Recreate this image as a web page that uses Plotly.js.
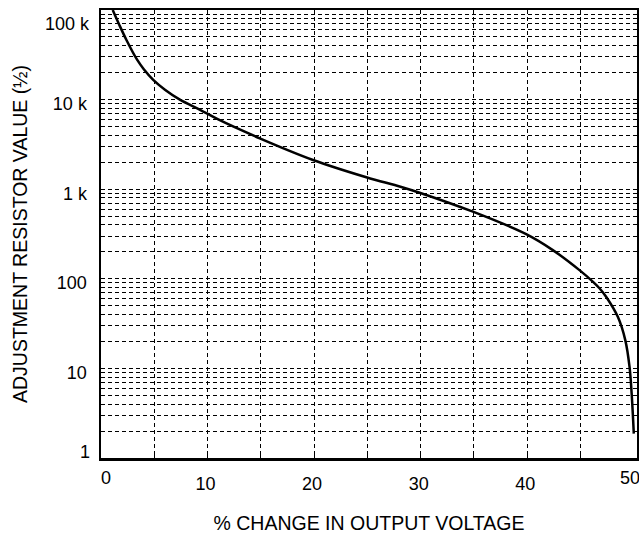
<!DOCTYPE html>
<html>
<head>
<meta charset="utf-8">
<script src="https://cdn.plot.ly/plotly-3.0.1.min.js"></script>
<style>html,body{margin:0;padding:0;background:#fff;}#chart{width:639px;height:534px;}</style>
</head>
<body>
<div id="chart"></div>
<script>
// % change in output voltage
var pctChange = [1.1, 1.7, 2.4, 3.4, 4.0, 4.9, 6.0, 7.4, 9.3, 11.0, 14.9, 19.9, 24.9, 28.1, 29.9, 34.9, 39.9, 42.4, 44.9, 46.2, 46.8, 47.4, 48.5, 49.2, 49.6, 49.8, 50.0];
// adjustment resistor value (ohms)
var resistance = [100000, 69000, 46000, 27700, 22000, 16600, 12900, 10000, 7700, 6000, 3700, 2120, 1360, 1067, 914, 561, 315, 209, 125, 92, 78, 63, 37.6, 20.7, 10.4, 5.2, 1.87];

var xTickVals = [0, 5, 10, 15, 20, 25, 30, 35, 40, 45];
var xTickText = ['', '', '10', '', '20', '', '30', '', '40', ''];
var xEndLabels = ['0', '50'];

var yDecades = [1, 10, 100, 1000, 10000];
var yDecadeLabels = ['1', '10', '100', '1 k', '10 k'];
var yTopLabel = '100 k';

var yTickVals = [], yTickText = [];
yDecades.forEach(function (d, i) {
  for (var m = 1; m <= 9; m++) {
    yTickVals.push(m * d);
    yTickText.push(m === 1 && i > 0 ? yDecadeLabels[i] : '');
  }
});
yTickVals.push(100000); yTickText.push('');

var FONT = 'Liberation Sans, Arial, Helvetica, sans-serif';
var DASH = '4px,3px';

var trace = {
  x: pctChange, y: resistance, type: 'scatter', mode: 'lines',
  line: {color: '#000', width: 2.5, shape: 'spline', smoothing: 1},
  hoverinfo: 'skip'
};

var layout = {
  width: 639, height: 534,
  margin: {l: 101, r: 2, t: 10, b: 76},
  paper_bgcolor: '#fff', plot_bgcolor: '#fff',
  showlegend: false,
  font: {family: FONT, size: 18, color: '#000'},
  xaxis: {
    range: [0, 50.3], tickmode: 'array', tickvals: xTickVals, ticktext: xTickText,
    ticks: 'inside', ticklen: 4, tickwidth: 1, tickcolor: '#000',
    showgrid: true, gridcolor: '#000', gridwidth: 1, griddash: DASH,
    zeroline: false, showline: true, linecolor: '#000', linewidth: 2.5, mirror: true,
    ticklabelstandoff: 8, ticklabelshift: -2,
    tickfont: {family: FONT, size: 18, color: '#000'},
    title: {text: '% CHANGE IN OUTPUT VOLTAGE', font: {family: FONT, size: 19.5, color: '#000'}, standoff: 29}
  },
  yaxis: {
    type: 'log', range: [0, 5], tickmode: 'array', tickvals: yTickVals, ticktext: yTickText,
    ticks: '', showgrid: true, gridcolor: '#000', gridwidth: 1, griddash: DASH,
    zeroline: false, showline: true, linecolor: '#000', linewidth: 2.5, mirror: true,
    ticklabelstandoff: 8, ticklabelshift: 4,
    tickfont: {family: FONT, size: 18, color: '#000'},
    title: {text: 'ADJUSTMENT RESISTOR VALUE (½)', font: {family: FONT, size: 19.5, color: '#000'}, standoff: 20}
  },
  annotations: [
    {xref: 'paper', yref: 'paper', x: 0, y: 0, xanchor: 'right', yanchor: 'middle', xshift: -9, yshift: 6,
     text: yDecadeLabels[0], showarrow: false, font: {family: FONT, size: 18, color: '#000'}},
    {xref: 'paper', yref: 'paper', x: 0, y: 0.969, xanchor: 'right', yanchor: 'middle', xshift: -9,
     text: yTopLabel, showarrow: false, font: {family: FONT, size: 18, color: '#000'}},
    {xref: 'x', yref: 'paper', x: 0, y: 0, xanchor: 'left', yanchor: 'top', yshift: -8, xshift: -2,
     text: xEndLabels[0], showarrow: false, font: {family: FONT, size: 18, color: '#000'}},
    {xref: 'x', yref: 'paper', x: 50, y: 0, xanchor: 'center', yanchor: 'top', yshift: -8, xshift: -4,
     text: xEndLabels[1], showarrow: false, font: {family: FONT, size: 18, color: '#000'}}
  ]
};

Plotly.newPlot('chart', [trace], layout, {displayModeBar: false, staticPlot: true});
</script>
</body>
</html>
